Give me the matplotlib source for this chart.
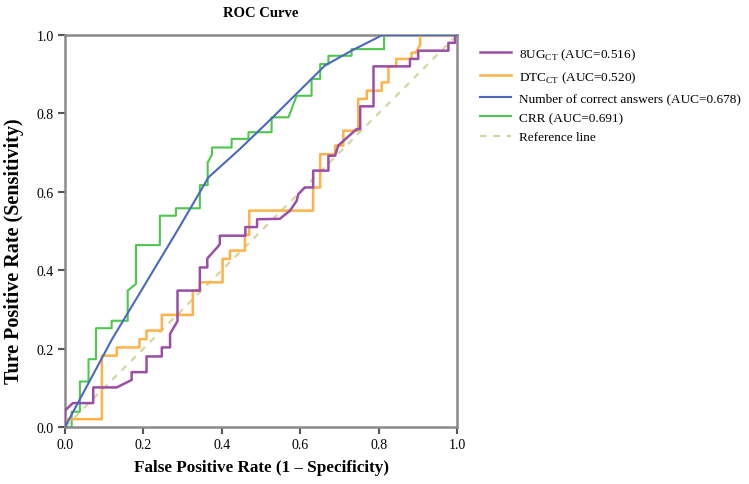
import matplotlib
matplotlib.use("Agg")
import matplotlib.pyplot as plt

plt.rcParams['font.family'] = ['Liberation Serif', 'DejaVu Serif']
plt.rcParams['mathtext.fontset'] = 'custom'
plt.rcParams['mathtext.rm'] = 'Liberation Serif'

# ROC curves (FPR, TPR)
ug_fpr = [0, 0, 0.02, 0.072, 0.072, 0.132, 0.17, 0.17, 0.208, 0.208, 0.247, 0.247, 0.268, 0.268,
          0.287, 0.287, 0.344, 0.344, 0.363, 0.363, 0.39, 0.395, 0.395, 0.46, 0.46, 0.49, 0.49,
          0.548, 0.574, 0.591, 0.595, 0.612, 0.633, 0.633, 0.672, 0.672, 0.689, 0.697, 0.744,
          0.753, 0.753, 0.787, 0.787, 0.880, 0.880, 0.901, 0.901, 0.978, 0.978, 0.995, 0.995, 1.0]
ug_tpr = [0, 0.042, 0.061, 0.061, 0.101, 0.101, 0.12, 0.14, 0.14, 0.18, 0.18, 0.203, 0.203, 0.238,
          0.27, 0.348, 0.348, 0.407, 0.407, 0.43, 0.46, 0.467, 0.488, 0.488, 0.51, 0.51, 0.53,
          0.531, 0.552, 0.577, 0.594, 0.611, 0.611, 0.654, 0.654, 0.692, 0.692, 0.718, 0.760,
          0.760, 0.818, 0.818, 0.920, 0.920, 0.939, 0.939, 0.960, 0.960, 0.980, 0.980, 1.0, 1.0]

dtc_fpr = [0, 0, 0.094, 0.094, 0.132, 0.132, 0.19, 0.19, 0.208, 0.208, 0.247, 0.247, 0.326, 0.326,
           0.344, 0.344, 0.402, 0.402, 0.421, 0.421, 0.459, 0.459, 0.47, 0.47, 0.633, 0.633,
           0.651, 0.651, 0.689, 0.689, 0.71, 0.71, 0.748, 0.748, 0.77, 0.77, 0.808, 0.808, 0.825,
           0.825, 0.845, 0.845, 0.884, 0.884, 0.895, 0.906, 0.906, 1.0]
dtc_tpr = [0, 0.02, 0.02, 0.182, 0.182, 0.203, 0.203, 0.224, 0.224, 0.246, 0.246, 0.286, 0.286, 0.348,
           0.348, 0.369, 0.369, 0.429, 0.429, 0.45, 0.45, 0.49, 0.49, 0.552, 0.552, 0.611,
           0.611, 0.696, 0.696, 0.718, 0.718, 0.756, 0.756, 0.837, 0.837, 0.858, 0.858, 0.879, 0.879,
           0.92, 0.92, 0.939, 0.939, 0.955, 0.955, 0.975, 1.0, 1.0]

nca_fpr = [0, 0.12, 0.289, 0.366, 0.446, 0.53, 0.663, 0.731, 0.81, 1.0]
nca_tpr = [0, 0.224, 0.505, 0.637, 0.709, 0.79, 0.922, 0.96, 1.0, 1.0]

crr_fpr = [0, 0.017, 0.017, 0.038, 0.038, 0.060, 0.060, 0.079, 0.079, 0.119, 0.119, 0.160, 0.160,
           0.181, 0.181, 0.242, 0.242, 0.283, 0.283, 0.344, 0.344, 0.364, 0.364, 0.375, 0.375,
           0.425, 0.425, 0.468, 0.468, 0.527, 0.527, 0.570, 0.591, 0.629, 0.629, 0.651, 0.651,
           0.672, 0.672, 0.731, 0.731, 0.814, 0.814, 1.0]
crr_tpr = [0, 0, 0.039, 0.039, 0.116, 0.116, 0.173, 0.173, 0.252, 0.252, 0.271, 0.271, 0.348,
           0.365, 0.464, 0.464, 0.539, 0.539, 0.558, 0.558, 0.617, 0.617, 0.675, 0.695, 0.713,
           0.713, 0.735, 0.735, 0.752, 0.752, 0.790, 0.790, 0.845, 0.845, 0.888, 0.888, 0.926,
           0.926, 0.947, 0.947, 0.964, 0.964, 1.0, 1.0]

ref_x = [0, 1]
ref_y = [0, 1]

labels = [r'8UG$_{\mathrm{CT}}$ (AUC=0.516)', r'DTC$_{\mathrm{CT}}$ (AUC=0.520)',
          'Number of correct answers (AUC=0.678)', 'CRR (AUC=0.691)', 'Reference line']
colors = ['#9b4ea8', '#fdb347', '#4a68c0', '#4cc84c', '#d8d6a0']

fig = plt.figure(figsize=(7.49, 4.85), dpi=100)
ax = fig.add_axes([65/749, 1-428/485, 392/749, 392/485])

ax.plot(ug_fpr, ug_tpr, color=colors[0], lw=1.8, label=labels[0], zorder=4)
ax.plot(dtc_fpr, dtc_tpr, color=colors[1], lw=1.8, label=labels[1], zorder=3)
ax.plot(nca_fpr, nca_tpr, color=colors[2], lw=1.5, label=labels[2], zorder=5)
ax.plot(crr_fpr, crr_tpr, color=colors[3], lw=1.5, label=labels[3], zorder=2)
ax.plot(ref_x, ref_y, color=colors[4], lw=1.6, ls=(0, (3, 3)), label=labels[4], zorder=1)

ax.set_xlim(0, 1)
ax.set_ylim(0, 1)
ticks = [0.0, 0.2, 0.4, 0.6, 0.8, 1.0]
ax.set_xticks(ticks)
ax.set_yticks(ticks)
ax.set_xticklabels(['0.0', '0.2', '0.4', '0.6', '0.8', '1.0'])
ax.set_yticklabels(['0.0', '0.2', '0.4', '0.6', '0.8', '1.0'])
for s in ax.spines.values():
    s.set_color('#8a8a8a')
    s.set_linewidth(1.8)
ax.tick_params(direction='out', length=5, width=1.5, color='#555555', labelsize=10, pad=3)

ax.set_title('ROC Curve', fontsize=10.5, fontweight='bold', pad=14)
ax.set_xlabel('False Positive Rate (1 – Specificity)', fontsize=12.3, fontweight='bold', labelpad=6)
ax.set_ylabel('Ture Positive Rate (Sensitivity)', fontsize=14.5, fontweight='bold')
ax.yaxis.set_label_coords(-0.104, 0.452)

fig.legend(loc='upper left', bbox_to_anchor=(475/749, 1-42/485), frameon=False,
           fontsize=9.5, handlelength=2.3, handletextpad=0.6, labelspacing=0.56, borderaxespad=0)

fig.savefig('out.png', dpi=100)
